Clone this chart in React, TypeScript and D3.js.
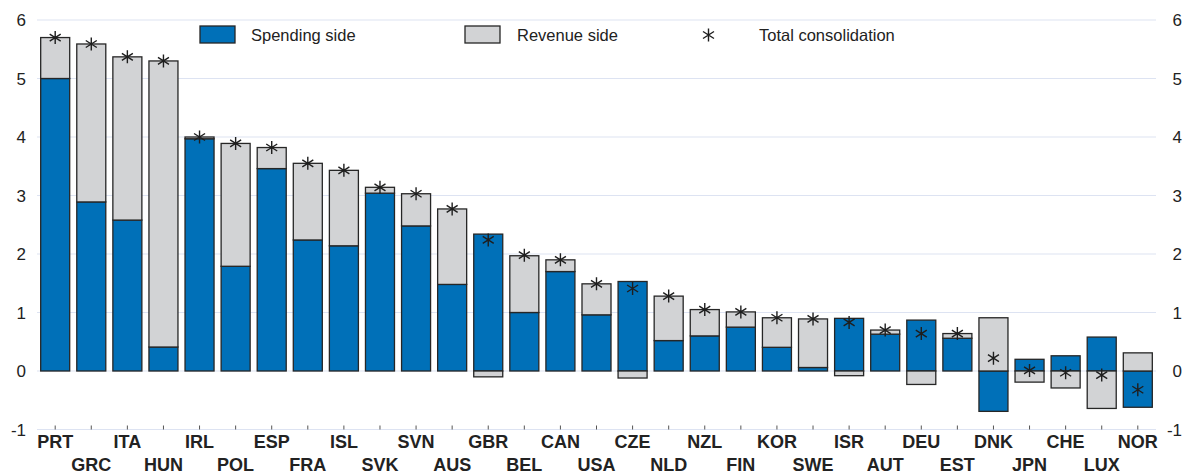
import React from "react";
import * as d3 from "d3";

const categories = ["PRT","GRC","ITA","HUN","IRL","POL","ESP","FRA","ISL","SVK","SVN","AUS","GBR","BEL","CAN","USA","CZE","NLD","NZL","FIN","KOR","SWE","ISR","AUT","DEU","EST","DNK","JPN","CHE","LUX","NOR"];
const spendingSide = [5.0, 2.89, 2.58, 0.41, 3.97, 1.79, 3.46, 2.24, 2.14, 3.04, 2.48, 1.48, 2.34, 1.0, 1.70, 0.96, 1.53, 0.52, 0.60, 0.75, 0.405, 0.06, 0.90, 0.63, 0.87, 0.56, -0.69, 0.20, 0.26, 0.58, -0.62];
const revenueSide = [0.70, 2.70, 2.79, 4.89, 0.03, 2.10, 0.36, 1.31, 1.29, 0.10, 0.55, 1.29, -0.10, 0.97, 0.20, 0.53, -0.12, 0.76, 0.45, 0.26, 0.505, 0.83, -0.08, 0.07, -0.23, 0.08, 0.91, -0.19, -0.29, -0.64, 0.31];
const totalConsolidation = [5.7, 5.59, 5.37, 5.30, 4.0, 3.89, 3.82, 3.55, 3.43, 3.14, 3.03, 2.77, 2.24, 1.98, 1.90, 1.49, 1.41, 1.28, 1.05, 1.01, 0.91, 0.89, 0.83, 0.70, 0.64, 0.64, 0.22, 0.01, -0.03, -0.07, -0.32];
const yTicks = [-1, 0, 1, 2, 3, 4, 5, 6];
const seriesNames = ["Spending side", "Revenue side"];

const W = 1187, H = 475;
const BLUE = "#0070b8";
const GRAY = "#d2d3d5";
const STROKE = "#262626";
const GRID = "#dde3f2";
const FONT = "'Liberation Sans', Arial, Helvetica, sans-serif";

function Star({ x, y, s = 1 }: { x: number; y: number; s?: number }) {
  const h = 6.5 * s, dx = 5.5 * s, dy = 3.5 * s;
  return (
    <path
      d={`M${x},${y - h}V${y + h}M${x - dx},${y - dy}L${x + dx},${y + dy}M${x - dx},${y + dy}L${x + dx},${y - dy}`}
      stroke="#1e1e1e" strokeWidth={1.4} fill="none"
    />
  );
}

export default function App() {
  const x = d3.scaleBand<string>().domain(categories).range([37.15, 1155.85]).paddingInner(0.196).paddingOuter(0.098);
  const y = d3.scaleLinear().domain([-1, 6]).range([429.5, 20]);

  const table = categories.map((c, i) => ({ cat: c, spend: spendingSide[i], rev: revenueSide[i] }));
  const stacked = d3.stack<any>().keys(["spend", "rev"]).offset(d3.stackOffsetDiverging)(table);
  const colors = [BLUE, GRAY];

  return (
    <svg width={W} height={H} style={{ position: "absolute", left: 0, top: 0 }} fontFamily={FONT}>
      <rect width={W} height={H} fill="#fff" />
      {yTicks.map((t) => (
        <g key={t}>
          <line x1={37} x2={1156} y1={y(t)} y2={y(t)} stroke={GRID} strokeWidth={1.2} />
          <text x={26} y={y(t) + 6} textAnchor="end" fontSize={17} fill="#222">{t}</text>
          <text x={1182} y={y(t) + 6} textAnchor="end" fontSize={17} fill="#222">{t}</text>
        </g>
      ))}
      {categories.map((c, i) => {
        const cx = (x(c) as number) + x.bandwidth() / 2;
        return (
          <g key={c}>
            <line x1={cx} x2={cx} y1={y(-1)} y2={y(-1) - 4} stroke="#555" strokeWidth={1} />
            <text x={cx} y={i % 2 === 0 ? 448 : 471} textAnchor="middle" fontSize={18} fontWeight="bold" fill="#222">{c}</text>
          </g>
        );
      })}
      {stacked.map((s, si) => (
        <g key={si}>
          {s.map((d, i) => {
            const y0 = y(d[0]), y1 = y(d[1]);
            if (Math.abs(y0 - y1) < 0.01) return null;
            return (
              <rect key={i} x={x(categories[i])} width={x.bandwidth()} y={Math.min(y0, y1)} height={Math.abs(y0 - y1)}
                fill={colors[si]} stroke={STROKE} strokeWidth={1.3} />
            );
          })}
        </g>
      ))}
      {categories.map((c, i) => (
        <Star key={c} x={(x(c) as number) + x.bandwidth() / 2} y={y(totalConsolidation[i])} />
      ))}
      <g fontSize={16.5} fill="#222">
        <rect x={200} y={26} width={35} height={17} fill={BLUE} stroke={STROKE} strokeWidth={1.3} />
        <text x={251} y={41}>{seriesNames[0]}</text>
        <rect x={465} y={26} width={35} height={17} fill={GRAY} stroke={STROKE} strokeWidth={1.3} />
        <text x={517} y={41}>{seriesNames[1]}</text>
        <Star x={708.5} y={35} />
        <text x={759} y={41}>Total consolidation</text>
      </g>
    </svg>
  );
}
